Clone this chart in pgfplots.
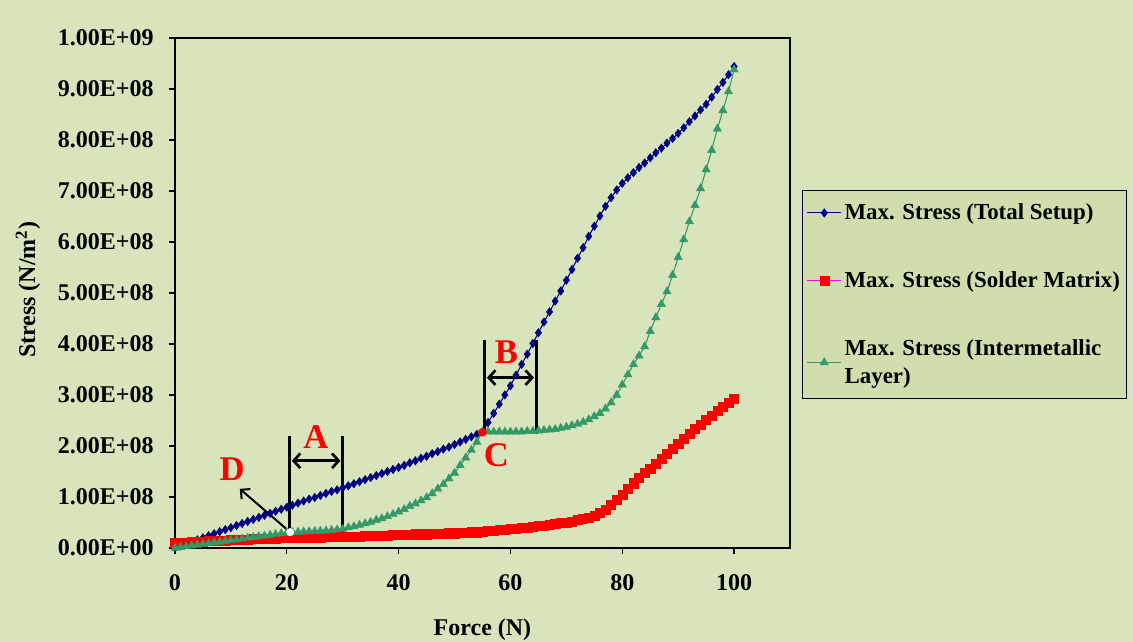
\documentclass[border=0pt]{standalone}
\usepackage{fontspec}
\setmainfont{Liberation Serif}
\usepackage{pgfplots}
\pgfplotsset{compat=1.18}
\usepackage{pgfplotstable}
\usetikzlibrary{arrows.meta}
\definecolor{bg}{HTML}{D8E4BC}
\definecolor{legbg}{HTML}{CFDEAC}
\definecolor{navyc}{HTML}{000080}
\definecolor{sgreen}{HTML}{339966}
\definecolor{mag}{HTML}{FF00FF}
\definecolor{lred}{HTML}{FF0000}
\newcommand\tf{\fontsize{18}{21}\selectfont\bfseries}
\newcommand\gf{\fontsize{17.2}{20.5}\selectfont\bfseries}
\newcommand\lf{\fontsize{26}{26}\selectfont\bfseries}

\pgfplotstableread{
F total solder inter
0 0 0.10e8 0
1 0.04e8 0.11e8 0.015e8
2 0.08e8 0.11e8 0.03e8
3 0.12e8 0.12e8 0.045e8
4 0.16e8 0.12e8 0.06e8
5 0.20e8 0.13e8 0.075e8
6 0.24e8 0.14e8 0.09e8
7 0.28e8 0.14e8 0.105e8
8 0.32e8 0.15e8 0.12e8
9 0.36e8 0.15e8 0.135e8
10 0.40e8 0.16e8 0.15e8
11 0.44e8 0.16e8 0.165e8
12 0.48e8 0.17e8 0.18e8
13 0.52e8 0.17e8 0.195e8
14 0.56e8 0.18e8 0.21e8
15 0.60e8 0.18e8 0.225e8
16 0.64e8 0.18e8 0.24e8
17 0.68e8 0.19e8 0.255e8
18 0.72e8 0.19e8 0.27e8
19 0.76e8 0.20e8 0.285e8
20 0.80e8 0.20e8 0.30e8
21 0.84e8 0.20e8 0.31e8
22 0.88e8 0.20e8 0.315e8
23 0.92e8 0.21e8 0.32e8
24 0.96e8 0.21e8 0.325e8
25 0.99e8 0.21e8 0.33e8
26 1.03e8 0.21e8 0.335e8
27 1.07e8 0.22e8 0.34e8
28 1.11e8 0.22e8 0.35e8
29 1.14e8 0.22e8 0.36e8
30 1.18e8 0.22e8 0.37e8
31 1.22e8 0.23e8 0.40e8
32 1.26e8 0.23e8 0.42e8
33 1.30e8 0.23e8 0.45e8
34 1.34e8 0.24e8 0.48e8
35 1.38e8 0.24e8 0.51e8
36 1.42e8 0.24e8 0.55e8
37 1.46e8 0.25e8 0.58e8
38 1.50e8 0.25e8 0.62e8
39 1.54e8 0.26e8 0.66e8
40 1.58e8 0.26e8 0.71e8
41 1.62e8 0.26e8 0.76e8
42 1.67e8 0.26e8 0.82e8
43 1.71e8 0.27e8 0.87e8
44 1.76e8 0.27e8 0.93e8
45 1.80e8 0.27e8 0.99e8
46 1.85e8 0.28e8 1.07e8
47 1.89e8 0.28e8 1.16e8
48 1.94e8 0.28e8 1.25e8
49 1.98e8 0.29e8 1.36e8
50 2.03e8 0.29e8 1.47e8
51 2.08e8 0.30e8 1.62e8
52 2.13e8 0.30e8 1.77e8
53 2.18e8 0.31e8 1.92e8
54 2.23e8 0.31e8 2.08e8
55 2.28e8 0.32e8 2.28e8
56 2.46e8 0.33e8 2.28e8
57 2.64e8 0.34e8 2.28e8
58 2.82e8 0.35e8 2.28e8
59 3.00e8 0.36e8 2.28e8
60 3.18e8 0.37e8 2.28e8
61 3.39e8 0.38e8 2.28e8
62 3.60e8 0.39e8 2.28e8
63 3.80e8 0.40e8 2.29e8
64 4.01e8 0.42e8 2.29e8
65 4.22e8 0.43e8 2.30e8
66 4.43e8 0.44e8 2.31e8
67 4.63e8 0.46e8 2.32e8
68 4.84e8 0.47e8 2.33e8
69 5.04e8 0.49e8 2.35e8
70 5.25e8 0.50e8 2.37e8
71 5.46e8 0.52e8 2.40e8
72 5.68e8 0.55e8 2.43e8
73 5.89e8 0.57e8 2.47e8
74 6.11e8 0.60e8 2.52e8
75 6.31e8 0.64e8 2.58e8
76 6.51e8 0.69e8 2.64e8
77 6.70e8 0.75e8 2.73e8
78 6.87e8 0.85e8 2.85e8
79 7.02e8 0.95e8 3.00e8
80 7.15e8 1.05e8 3.20e8
81 7.26e8 1.16e8 3.40e8
82 7.36e8 1.27e8 3.60e8
83 7.46e8 1.37e8 3.77e8
84 7.55e8 1.47e8 3.95e8
85 7.65e8 1.56e8 4.25e8
86 7.75e8 1.65e8 4.52e8
87 7.84e8 1.75e8 4.78e8
88 7.94e8 1.85e8 5.03e8
89 8.03e8 1.95e8 5.35e8
90 8.13e8 2.05e8 5.70e8
91 8.24e8 2.15e8 6.05e8
92 8.36e8 2.25e8 6.40e8
93 8.47e8 2.34e8 6.72e8
94 8.59e8 2.42e8 7.05e8
95 8.70e8 2.51e8 7.42e8
96 8.84e8 2.60e8 7.80e8
97 8.99e8 2.69e8 8.22e8
98 9.13e8 2.77e8 8.58e8
99 9.28e8 2.85e8 8.95e8
100 9.44e8 2.93e8 9.38e8
}\datatable

\begin{document}
\begin{tikzpicture}
\useasboundingbox (-131.25pt,-70.5pt) rectangle (718.5pt,411pt);
\fill[bg] (-131.25pt,-70.5pt) rectangle (718.5pt,411pt);
\begin{axis}[
  at={(0,0)}, anchor=south west,
  width=461.25pt, height=382.5pt, scale only axis,
  xmin=0, xmax=110, ymin=0, ymax=1e9,
  scaled y ticks=false, scaled x ticks=false,
  clip=false,
  axis line style={black, line width=1pt},
  xtick={0,20,40,60,80,100},
  xticklabels={0,20,40,60,80,100},
  ytick={0,1e8,2e8,3e8,4e8,5e8,6e8,7e8,8e8,9e8,1e9},
  yticklabels={0.00E+00,1.00E+08,2.00E+08,3.00E+08,4.00E+08,5.00E+08,6.00E+08,7.00E+08,8.00E+08,9.00E+08,1.00E+09},
  xtick pos=bottom, ytick pos=left,
  tick align=outside,
  major tick length=4.5pt,
  tick style={black, line width=1pt},
  tick label style={font=\tf},
  xticklabel style={yshift=-11.5pt},
  yticklabel style={xshift=-8pt},
  xlabel={Force (N)},
  ylabel={Stress (N/m\textsuperscript{2})},
  label style={font=\tf},
  xlabel style={at={(axis description cs:0.5,-0.16)}, anchor=center},
  ylabel style={at={(axis description cs:-0.239,0.506)}, anchor=center, rotate=0},
  legend style={at={(1.0195,0.702)}, anchor=north west, fill=legbg, draw=black,
    line width=1pt, font=\gf, row sep=33.5pt, inner xsep=3pt, inner ysep=8pt,
    cells={align=left, anchor=west}},
  legend image code/.code={%
    \draw[mark repeat=2, mark phase=2, #1] plot coordinates {(0cm,0cm) (0.45cm,0cm) (0.9cm,0cm)};},
]
\addplot[navyc, line width=0.8pt, mark=diamond*, mark size=3.2pt,
  mark options={fill=navyc, draw=navyc, line width=0.3pt}] table[x=F, y=total] {\datatable};
\addlegendentry{Max. Stress (Total Setup)}
\addplot[mag, line width=0.8pt, mark=square*, mark size=3.4pt,
  mark options={fill=lred, draw=lred, line width=0.3pt}] table[x=F, y=solder] {\datatable};
\addlegendentry{Max. Stress (Solder Matrix)}
\addplot[sgreen, line width=0.8pt, mark=triangle*, mark size=3.6pt,
  mark options={fill=sgreen, draw=sgreen, line width=0.3pt}] table[x=F, y=inter] {\datatable};
\addlegendentry{Max. Stress (Intermetallic\\Layer)}

% annotations
\draw[line width=2.2pt] (axis cs:20.5,0.31e8) -- (axis cs:20.5,2.2e8);
\draw[line width=2.2pt] (axis cs:30,0.24e8) -- (axis cs:30,2.2e8);
\draw[line width=2pt, {Straight Barb[length=5pt,width=11pt]}-{Straight Barb[length=5pt,width=11pt]}]
  (axis cs:20.9,1.71e8) -- (axis cs:29.6,1.71e8);
\node[text=lred, font=\lf] at (axis cs:25.2,2.18e8) {A};

\draw[line width=2.2pt] (axis cs:55.4,2.24e8) -- (axis cs:55.4,4.07e8);
\draw[line width=2.2pt] (axis cs:64.6,2.24e8) -- (axis cs:64.6,4.07e8);
\draw[line width=2pt, {Straight Barb[length=5pt,width=11pt]}-{Straight Barb[length=5pt,width=11pt]}]
  (axis cs:55.8,3.34e8) -- (axis cs:64.2,3.34e8);
\node[text=lred, font=\lf] at (axis cs:59.3,3.83e8) {B};

\addplot[only marks, mark=*, mark size=3pt, lred, forget plot] coordinates {(55,2.27e8)};
\node[text=lred, font=\lf] at (axis cs:57.5,1.81e8) {C};

\draw[line width=1.5pt, -{Straight Barb[length=5pt,width=10pt]}]
  (axis cs:20.6,0.31e8) -- (axis cs:11.6,1.16e8);
\addplot[only marks, mark=*, mark size=2.8pt, white, forget plot] coordinates {(20.6,0.31e8)};
\node[text=lred, font=\lf] at (axis cs:10.2,1.55e8) {D};
\end{axis}
\end{tikzpicture}
\end{document}
